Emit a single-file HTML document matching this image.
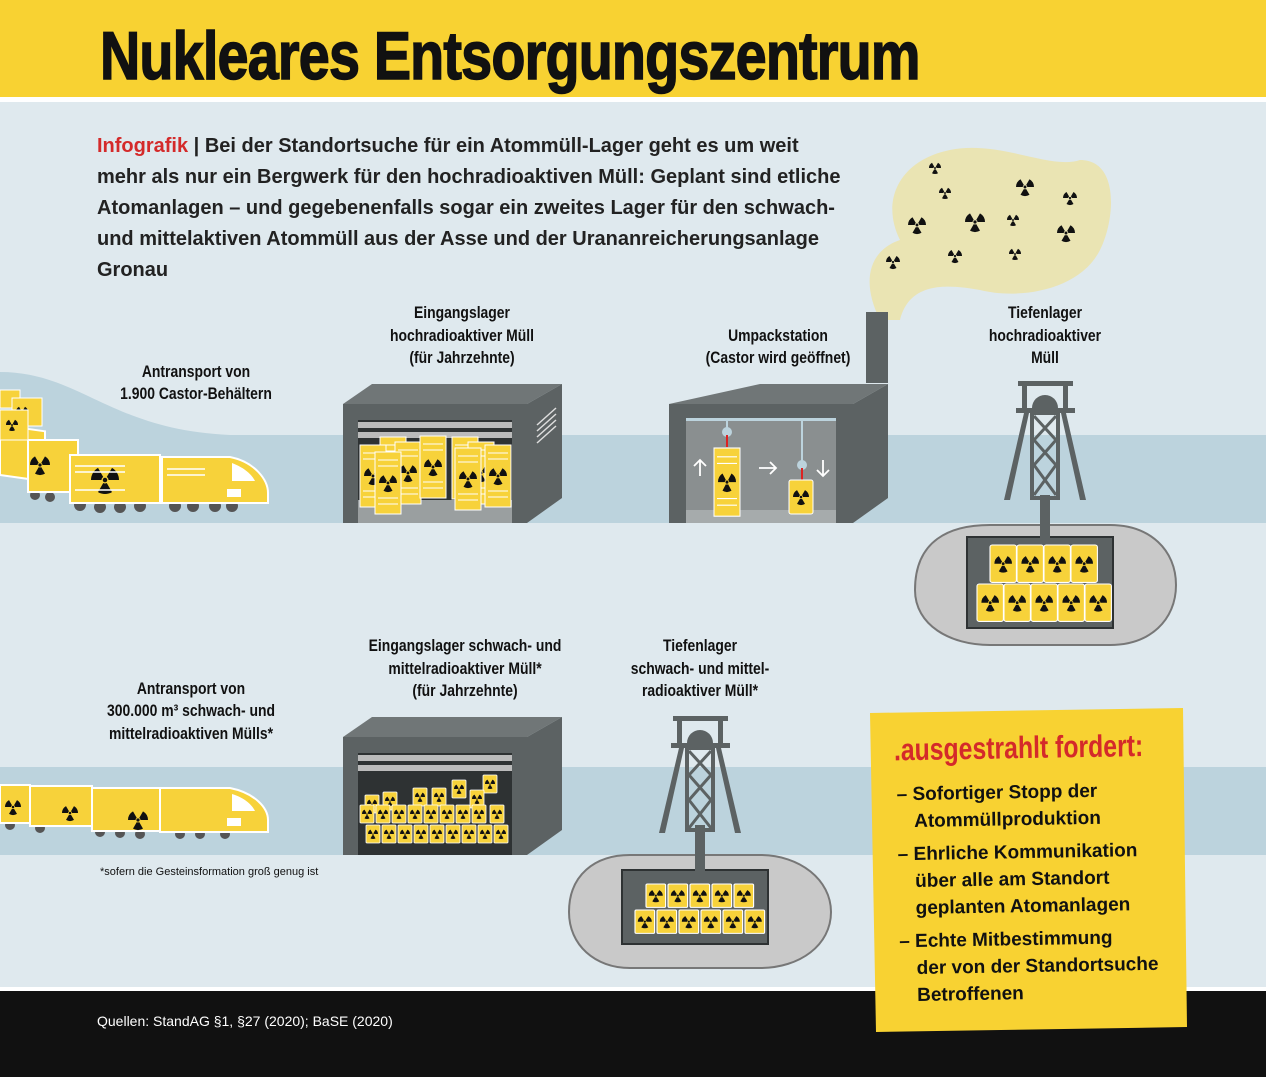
<!DOCTYPE html>
<html><head><meta charset="utf-8"><style>
html,body{margin:0;padding:0}
body{width:1266px;height:1077px;overflow:hidden;font-family:"Liberation Sans",sans-serif}
text{font-family:"Liberation Sans",sans-serif}
.lab{font-weight:bold;font-size:17px;fill:#111;text-anchor:middle}
</style></head><body>
<svg width="1266" height="1077" viewBox="0 0 1266 1077" xmlns="http://www.w3.org/2000/svg">
<defs>
<g id="t"><g fill="#111"><path id="bl" d="M1.25,2.17 L5,8.66 A10,10 0 0,1 -5,8.66 L-1.25,2.17 A2.5,2.5 0 0,0 1.25,2.17Z"/><use href="#bl" transform="rotate(120)"/><use href="#bl" transform="rotate(240)"/><circle r="1.6"/></g></g>
<g id="b"><rect x="0" y="0" width="24" height="34" rx="2" fill="#f7d23a" stroke="#fff" stroke-width="1"/><use href="#t" transform="translate(12,17) scale(0.8)"/></g>
<g id="c"><rect x="0" y="0" width="26" height="62" fill="#f7d23a" stroke="#fff" stroke-width="1"/><g stroke="#fff" stroke-width="1"><line x1="3" y1="8" x2="23" y2="8"/><line x1="3" y1="14" x2="23" y2="14"/><line x1="3" y1="46" x2="23" y2="46"/><line x1="3" y1="52" x2="23" y2="52"/></g><use href="#t" transform="translate(13,31) scale(0.9)"/></g>
<g id="sb"><rect x="0" y="0" width="14" height="18" rx="1" fill="#f7d23a" stroke="#fff" stroke-width="0.8"/><use href="#t" transform="translate(7,9) scale(0.5)"/></g>
</defs>
<rect width="1266" height="1077" fill="#dfe9ee"/>
<rect width="1266" height="97" fill="#f8d232"/>
<rect y="97" width="1266" height="5" fill="#fff"/>
<text x="100" y="79" font-size="68" font-weight="bold" fill="#111" stroke="#111" stroke-width="1.5" transform="translate(100,0) scale(0.82,1) translate(-100,0)" style="letter-spacing:-1px">Nukleares Entsorgungszentrum</text>
<rect y="435" width="1266" height="88" fill="#bcd3dd"/>
<rect y="767" width="1266" height="88" fill="#bcd3dd"/>
<path d="M0,372 C80,372 110,430 230,435 L0,435Z" fill="#bcd3dd"/>
<rect y="990" width="1266" height="87" fill="#111"/>
<rect y="987" width="1266" height="4" fill="#fff"/>
<text x="97" y="1026" font-size="14" fill="#fff">Quellen: StandAG §1, §27 (2020); BaSE (2020)</text>
<g font-size="20" font-weight="bold" fill="#222">
<text x="97" y="152"><tspan fill="#d42a2a">Infografik</tspan> | Bei der Standortsuche für ein Atommüll-Lager geht es um weit</text>
<text x="97" y="183">mehr als nur ein Bergwerk für den hochradioaktiven Müll: Geplant sind etliche</text>
<text x="97" y="214">Atomanlagen – und gegebenenfalls sogar ein zweites Lager für den schwach-</text>
<text x="97" y="245">und mittelaktiven Atommüll aus der Asse und der Urananreicherungsanlage</text>
<text x="97" y="276">Gronau</text>
</g>
<path d="M880,320 C860,280 870,250 900,240 C880,200 900,160 950,150 C1000,140 1050,170 1080,160 C1120,160 1115,220 1100,250 C1080,290 1020,300 980,290 C950,285 910,280 900,320Z" fill="#ece3a8" opacity="0.85"/>
<g>
<use href="#t" transform="translate(935,168) scale(0.6)"/><use href="#t" transform="translate(1025,187) scale(0.9)"/><use href="#t" transform="translate(1070,198) scale(0.7)"/><use href="#t" transform="translate(945,193) scale(0.6)"/><use href="#t" transform="translate(917,225) scale(0.9)"/><use href="#t" transform="translate(975,222) scale(1)"/><use href="#t" transform="translate(1013,220) scale(0.6)"/><use href="#t" transform="translate(1066,233) scale(0.9)"/><use href="#t" transform="translate(955,256) scale(0.7)"/><use href="#t" transform="translate(1015,254) scale(0.6)"/><use href="#t" transform="translate(893,262) scale(0.7)"/>
</g>
<g>
<text class="lab" x="196" y="377" transform="translate(196,0) scale(0.82,1) translate(-196,0)">Antransport von</text>
<text class="lab" x="196" y="399" transform="translate(196,0) scale(0.82,1) translate(-196,0)">1.900 Castor-Behältern</text>
<text class="lab" x="462" y="318" transform="translate(462,0) scale(0.82,1) translate(-462,0)">Eingangslager</text>
<text class="lab" x="462" y="341" transform="translate(462,0) scale(0.82,1) translate(-462,0)">hochradioaktiver Müll</text>
<text class="lab" x="462" y="363" transform="translate(462,0) scale(0.82,1) translate(-462,0)">(für Jahrzehnte)</text>
<text class="lab" x="778" y="341" transform="translate(778,0) scale(0.82,1) translate(-778,0)">Umpackstation</text>
<text class="lab" x="778" y="363" transform="translate(778,0) scale(0.82,1) translate(-778,0)">(Castor wird geöffnet)</text>
<text class="lab" x="1045" y="318" transform="translate(1045,0) scale(0.82,1) translate(-1045,0)">Tiefenlager</text>
<text class="lab" x="1045" y="341" transform="translate(1045,0) scale(0.82,1) translate(-1045,0)">hochradioaktiver</text>
<text class="lab" x="1045" y="363" transform="translate(1045,0) scale(0.82,1) translate(-1045,0)">Müll</text>
<text class="lab" x="191" y="694" transform="translate(191,0) scale(0.82,1) translate(-191,0)">Antransport von</text>
<text class="lab" x="191" y="716" transform="translate(191,0) scale(0.82,1) translate(-191,0)">300.000 m³ schwach- und</text>
<text class="lab" x="191" y="739" transform="translate(191,0) scale(0.82,1) translate(-191,0)">mittelradioaktiven Mülls*</text>
<text class="lab" x="465" y="651" transform="translate(465,0) scale(0.82,1) translate(-465,0)">Eingangslager schwach- und</text>
<text class="lab" x="465" y="674" transform="translate(465,0) scale(0.82,1) translate(-465,0)">mittelradioaktiver Müll*</text>
<text class="lab" x="465" y="696" transform="translate(465,0) scale(0.82,1) translate(-465,0)">(für Jahrzehnte)</text>
<text class="lab" x="700" y="651" transform="translate(700,0) scale(0.82,1) translate(-700,0)">Tiefenlager</text>
<text class="lab" x="700" y="674" transform="translate(700,0) scale(0.82,1) translate(-700,0)">schwach- und mittel-</text>
<text class="lab" x="700" y="696" transform="translate(700,0) scale(0.82,1) translate(-700,0)">radioaktiver Müll*</text>
</g>
<text x="100" y="875" font-size="11" fill="#111">*sofern die Gesteinsformation groß genug ist</text>
<g>
<g fill="#555"><circle cx="80" cy="505" r="6"/><circle cx="100" cy="507" r="6"/><circle cx="120" cy="507" r="6"/><circle cx="140" cy="506" r="6"/><circle cx="175" cy="506" r="6"/><circle cx="193" cy="506" r="6"/><circle cx="215" cy="506" r="6"/><circle cx="232" cy="506" r="6"/><circle cx="35" cy="495" r="5"/><circle cx="50" cy="497" r="5"/></g>
<rect x="0" y="425" width="45" height="50" fill="#f7d23a" stroke="#fff" stroke-width="2" transform="skewY(8)"/>
<rect x="28" y="440" width="50" height="52" fill="#f7d23a" stroke="#fff" stroke-width="2"/>
<use href="#t" transform="translate(40,465) scale(1)"/>
<rect x="70" y="455" width="90" height="48" fill="#f7d23a" stroke="#fff" stroke-width="2"/>
<use href="#t" transform="translate(105,480) scale(1.4)"/>
<g stroke="#fff" stroke-width="1.5"><line x1="75" y1="466" x2="125" y2="466"/><line x1="75" y1="472" x2="125" y2="472"/><line x1="75" y1="490" x2="125" y2="490"/></g>
<path d="M162,457 L230,457 C255,462 268,480 268,493 L268,503 L162,503Z" fill="#f7d23a" stroke="#fff" stroke-width="2"/>
<path d="M232,463 C245,468 252,475 255,481 L232,481Z" fill="#fff"/>
<rect x="227" y="489" width="14" height="8" fill="#fff"/>
<g stroke="#fff" stroke-width="1.5"><line x1="167" y1="469" x2="205" y2="469"/><line x1="167" y1="475" x2="205" y2="475"/></g>
<g><rect x="0" y="390" width="20" height="18" fill="#f7d23a" stroke="#fff"/><rect x="12" y="398" width="30" height="28" fill="#f7d23a" stroke="#fff"/><use href="#t" transform="translate(22,412) scale(0.6)"/><rect x="0" y="410" width="28" height="30" fill="#f7d23a" stroke="#fff"/><use href="#t" transform="translate(12,425) scale(0.6)"/></g>
</g>
<g>
<path d="M343,404 L372,384 L562,384 L527,404Z" fill="#707677"/>
<path d="M527,404 L562,384 L562,498 L527,523Z" fill="#5c6263"/>
<rect x="343" y="404" width="184" height="119" fill="#5c6263"/>
<rect x="358" y="420" width="154" height="103" fill="#2e3233"/>
<rect x="358" y="422" width="154" height="6" fill="#bbb"/><rect x="358" y="432" width="154" height="6" fill="#bbb"/>
<rect x="358" y="500" width="154" height="23" fill="#9a9fa0"/>
<g stroke="#ddd" stroke-width="1.5"><line x1="537" y1="425" x2="556" y2="408"/><line x1="537" y1="431" x2="556" y2="414"/><line x1="537" y1="437" x2="556" y2="420"/><line x1="537" y1="443" x2="556" y2="426"/></g>
<use href="#c" transform="translate(380,437)"/><use href="#c" transform="translate(395,442)"/><use href="#c" transform="translate(360,445)"/><use href="#c" transform="translate(375,452)"/>
<use href="#c" transform="translate(420,436)"/>
<use href="#c" transform="translate(452,437)"/><use href="#c" transform="translate(468,442)"/><use href="#c" transform="translate(455,448)"/><use href="#c" transform="translate(485,445)"/>
</g>
<g>
<path d="M866,383 L866,312 L888,312 L888,383Z" fill="#5c6263"/>
<path d="M669,404 L760,384 L888,384 L853,404Z" fill="#707677"/>
<path d="M853,404 L888,384 L888,498 L853,523Z" fill="#5c6263"/>
<rect x="669" y="404" width="184" height="119" fill="#5c6263"/>
<rect x="686" y="418" width="150" height="105" fill="#8a8f90"/>
<rect x="686" y="510" width="150" height="13" fill="#a6abac"/>
<rect x="686" y="418" width="150" height="3" fill="#bcd3dd"/>
<line x1="727" y1="421" x2="727" y2="432" stroke="#bcd3dd" stroke-width="2"/><circle cx="727" cy="432" r="5" fill="#bcd3dd"/><line x1="727" y1="435" x2="727" y2="447" stroke="#d22" stroke-width="2"/>
<line x1="802" y1="421" x2="802" y2="465" stroke="#bcd3dd" stroke-width="2"/><circle cx="802" cy="465" r="5" fill="#bcd3dd"/><line x1="802" y1="468" x2="802" y2="480" stroke="#d22" stroke-width="2"/>
<use href="#c" transform="translate(714,448) scale(1,1.1)"/>
<use href="#b" transform="translate(789,480)"/>
<g stroke="#fff" stroke-width="1.8" fill="none"><path d="M700,476 L700,460 M694,466 L700,460 L706,466"/><path d="M759,468 L776,468 M770,462 L776,468 L770,474"/><path d="M823,460 L823,476 M817,470 L823,476 L829,470"/></g>
</g>
<g>
<path d="M915,590 C915,540 950,525 990,525 L1110,525 C1150,525 1176,550 1176,585 C1176,620 1150,645 1110,645 L990,645 C950,645 915,625 915,590Z" fill="#c9c9c9" stroke="#777" stroke-width="2"/>
<rect x="967" y="537" width="146" height="91" fill="#5c6263" stroke="#2e3233" stroke-width="2"/>
<rect x="1040" y="495" width="10" height="45" fill="#5c6263"/>
<g fill="#5c6263"><rect x="1018" y="381" width="55" height="5"/><rect x="1022" y="386" width="5" height="25"/><rect x="1063" y="386" width="5" height="25"/><rect x="1016" y="408" width="59" height="5"/><path d="M1004,500 L1024,413 L1029,413 L1010,500Z"/><path d="M1086,500 L1066,413 L1061,413 L1080,500Z"/><rect x="1032" y="413" width="26" height="85" fill="none" stroke="#5c6263" stroke-width="4"/><path d="M1034,416 L1056,440 M1056,416 L1034,440 M1034,440 L1056,465 M1056,440 L1034,465 M1034,465 L1056,495 M1056,465 L1034,495" stroke="#5c6263" stroke-width="3"/></g>
<path d="M1032,408 A13,13 0 0,1 1058,408Z" fill="#5c6263"/>
<use href="#b" transform="translate(990,545) scale(1.1)"/><use href="#b" transform="translate(1017,545) scale(1.1)"/><use href="#b" transform="translate(1044,545) scale(1.1)"/><use href="#b" transform="translate(1071,545) scale(1.1)"/>
<use href="#b" transform="translate(977,584) scale(1.1)"/><use href="#b" transform="translate(1004,584) scale(1.1)"/><use href="#b" transform="translate(1031,584) scale(1.1)"/><use href="#b" transform="translate(1058,584) scale(1.1)"/><use href="#b" transform="translate(1085,584) scale(1.1)"/>
</g>
<g>
<g fill="#555"><circle cx="10" cy="825" r="5"/><circle cx="40" cy="828" r="5"/><circle cx="100" cy="832" r="5"/><circle cx="120" cy="833" r="5"/><circle cx="140" cy="834" r="5"/><circle cx="180" cy="834" r="5"/><circle cx="200" cy="834" r="5"/><circle cx="225" cy="834" r="5"/></g>
<rect x="0" y="785" width="30" height="38" fill="#f7d23a" stroke="#fff" stroke-width="2"/><use href="#t" transform="translate(13,807) scale(0.8)"/>
<rect x="30" y="786" width="62" height="40" fill="#f7d23a" stroke="#fff" stroke-width="2"/><use href="#t" transform="translate(70,813) scale(0.8)"/>
<rect x="92" y="788" width="68" height="43" fill="#f7d23a" stroke="#fff" stroke-width="2"/><use href="#t" transform="translate(138,820) scale(1)"/>
<path d="M160,788 L230,788 C255,793 268,808 268,820 L268,832 L160,832Z" fill="#f7d23a" stroke="#fff" stroke-width="2"/>
<path d="M232,794 C245,798 252,805 255,811 L232,811Z" fill="#fff"/><rect x="227" y="818" width="14" height="8" fill="#fff"/>
</g>
<g>
<path d="M343,737 L372,717 L562,717 L527,737Z" fill="#707677"/>
<path d="M527,737 L562,717 L562,830 L527,855Z" fill="#5c6263"/>
<rect x="343" y="737" width="184" height="118" fill="#5c6263"/>
<rect x="358" y="753" width="154" height="102" fill="#2e3233"/>
<rect x="358" y="755" width="154" height="6" fill="#bbb"/><rect x="358" y="765" width="154" height="6" fill="#bbb"/>
<g>
<use href="#sb" transform="translate(483,775)"/><use href="#sb" transform="translate(452,780)"/><use href="#sb" transform="translate(413,788)"/><use href="#sb" transform="translate(432,788)"/><use href="#sb" transform="translate(470,790)"/><use href="#sb" transform="translate(365,795)"/><use href="#sb" transform="translate(383,792)"/>
<use href="#sb" transform="translate(360,805)"/><use href="#sb" transform="translate(376,805)"/><use href="#sb" transform="translate(392,805)"/><use href="#sb" transform="translate(408,805)"/><use href="#sb" transform="translate(424,805)"/><use href="#sb" transform="translate(440,805)"/><use href="#sb" transform="translate(456,805)"/><use href="#sb" transform="translate(472,805)"/><use href="#sb" transform="translate(490,805)"/>
<use href="#sb" transform="translate(366,825)"/><use href="#sb" transform="translate(382,825)"/><use href="#sb" transform="translate(398,825)"/><use href="#sb" transform="translate(414,825)"/><use href="#sb" transform="translate(430,825)"/><use href="#sb" transform="translate(446,825)"/><use href="#sb" transform="translate(462,825)"/><use href="#sb" transform="translate(478,825)"/><use href="#sb" transform="translate(494,825)"/>
</g>
</g>
<g>
<path d="M569,912 C569,875 595,855 630,855 L760,855 C800,855 831,880 831,912 C831,945 800,968 760,968 L630,968 C595,968 569,945 569,912Z" fill="#c9c9c9" stroke="#777" stroke-width="2"/>
<rect x="622" y="870" width="146" height="74" fill="#5c6263" stroke="#2e3233" stroke-width="2"/>
<rect x="695" y="825" width="10" height="47" fill="#5c6263"/>
<g fill="#5c6263"><rect x="673" y="716" width="55" height="5"/><rect x="677" y="721" width="5" height="25"/><rect x="718" y="721" width="5" height="25"/><rect x="671" y="743" width="59" height="5"/><path d="M659,833 L679,748 L684,748 L665,833Z"/><path d="M741,833 L721,748 L716,748 L735,833Z"/><rect x="687" y="748" width="26" height="82" fill="none" stroke="#5c6263" stroke-width="4"/><path d="M689,751 L711,775 M711,751 L689,775 M689,775 L711,800 M711,775 L689,800 M689,800 L711,828 M711,800 L689,828" stroke="#5c6263" stroke-width="3"/></g>
<path d="M687,743 A13,13 0 0,1 713,743Z" fill="#5c6263"/>
<use href="#sb" transform="translate(646,884) scale(1.4,1.3)"/><use href="#sb" transform="translate(668,884) scale(1.4,1.3)"/><use href="#sb" transform="translate(690,884) scale(1.4,1.3)"/><use href="#sb" transform="translate(712,884) scale(1.4,1.3)"/><use href="#sb" transform="translate(734,884) scale(1.4,1.3)"/>
<use href="#sb" transform="translate(635,910) scale(1.4,1.3)"/><use href="#sb" transform="translate(657,910) scale(1.4,1.3)"/><use href="#sb" transform="translate(679,910) scale(1.4,1.3)"/><use href="#sb" transform="translate(701,910) scale(1.4,1.3)"/><use href="#sb" transform="translate(723,910) scale(1.4,1.3)"/><use href="#sb" transform="translate(745,910) scale(1.4,1.3)"/>
</g>
<polygon points="870,713 1183,708 1187,1027 876,1032" fill="#f8d232"/>
<g transform="rotate(-1 1030 870)">
<text x="896" y="758" font-size="31" font-weight="bold" fill="#d42a2a" transform="translate(896,0) scale(0.8,1) translate(-896,0)">.ausgestrahlt fordert:</text>
<g font-size="19" font-weight="bold" fill="#111">
<text x="898" y="798">– Sofortiger Stopp der</text>
<text x="915" y="825">Atommüllproduktion</text>
<text x="898" y="858">– Ehrliche Kommunikation</text>
<text x="915" y="885">über alle am Standort</text>
<text x="915" y="912">geplanten Atomanlagen</text>
<text x="898" y="945">– Echte Mitbestimmung</text>
<text x="915" y="972">der von der Standortsuche</text>
<text x="915" y="999">Betroffenen</text>
</g></g>
</svg>
</body></html>
